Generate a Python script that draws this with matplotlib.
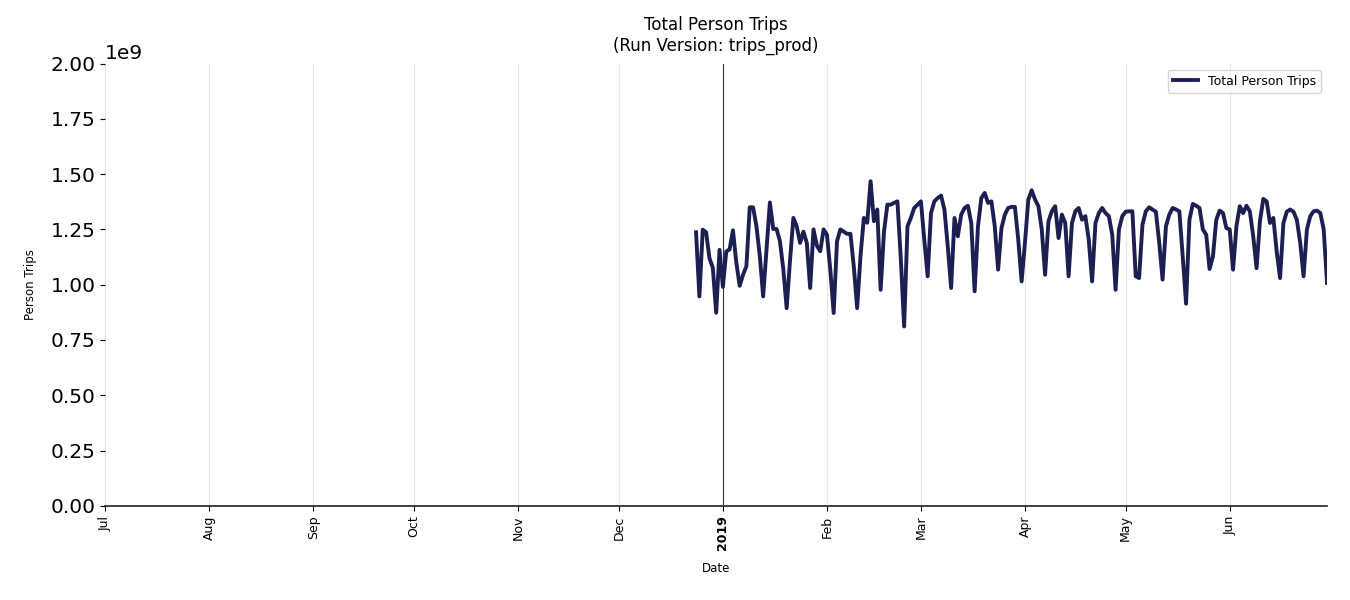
import matplotlib
matplotlib.use("Agg")
import matplotlib.pyplot as plt
import numpy as np
import pandas as pd

# daily totals, 2018-12-24 .. 2019-06-30 (units of 1e9 trips)
start_date = "2018-12-24"
trips_dec = [1.237, 0.947, 1.249, 1.237, 1.120, 1.077, 0.873, 1.158]
trips_jan = [0.990, 1.150, 1.160, 1.246, 1.100, 0.995, 1.045, 1.083, 1.350, 1.350,
             1.264, 1.130, 0.947, 1.160, 1.372, 1.252, 1.252, 1.196, 1.070, 0.894,
             1.110, 1.302, 1.264, 1.189, 1.240, 1.189, 0.985, 1.250, 1.176, 1.151,
             1.250]
trips_feb = [1.226, 1.068, 0.872, 1.196, 1.250, 1.240, 1.230, 1.230, 1.083, 0.894,
             1.130, 1.302, 1.280, 1.468, 1.287, 1.340, 0.977, 1.240, 1.362, 1.362,
             1.370, 1.377, 1.120, 0.811, 1.264, 1.302, 1.347, 1.362]
trips_mar = [1.377, 1.204, 1.038, 1.324, 1.377, 1.392, 1.403, 1.340, 1.173, 0.985,
             1.302, 1.219, 1.317, 1.347, 1.357, 1.279, 0.970, 1.264, 1.392, 1.415,
             1.370, 1.377, 1.264, 1.068, 1.256, 1.317, 1.347, 1.352, 1.352, 1.204,
             1.015]
trips_apr = [1.190, 1.385, 1.427, 1.385, 1.355, 1.250, 1.045, 1.287, 1.332, 1.355,
             1.211, 1.317, 1.279, 1.038, 1.279, 1.332, 1.347, 1.294, 1.310, 1.204,
             1.015, 1.279, 1.324, 1.347, 1.324, 1.310, 1.226, 0.977, 1.250, 1.310]
trips_may = [1.330, 1.332, 1.332, 1.038, 1.030, 1.271, 1.332, 1.350, 1.340, 1.330,
             1.190, 1.023, 1.264, 1.317, 1.347, 1.340, 1.332, 1.128, 0.914, 1.294,
             1.365, 1.357, 1.347, 1.250, 1.226, 1.071, 1.128, 1.294, 1.335, 1.324,
             1.256]
trips_jun = [1.250, 1.068, 1.264, 1.355, 1.324, 1.357, 1.332, 1.220, 1.075, 1.287,
             1.388, 1.377, 1.279, 1.302, 1.150, 1.030, 1.279, 1.330, 1.340, 1.330,
             1.294, 1.190, 1.038, 1.250, 1.310, 1.332, 1.335, 1.324, 1.250, 1.008]

month_ticks = ["2018-07-01", "2018-08-01", "2018-09-01", "2018-10-01", "2018-11-01",
               "2018-12-01", "2019-01-01", "2019-02-01", "2019-03-01", "2019-04-01",
               "2019-05-01", "2019-06-01"]
month_labels = ["Jul", "Aug", "Sep", "Oct", "Nov", "Dec", "2019", "Feb", "Mar", "Apr",
                "May", "Jun"]

values = np.array(trips_dec + trips_jan + trips_feb + trips_mar + trips_apr
                  + trips_may + trips_jun) * 1e9
dates = pd.date_range(start_date, periods=len(values), freq="D")

fig = plt.figure(figsize=(13.5, 6), dpi=100)
ax = fig.add_axes([0.078, 0.157, 0.905, 0.737])

# month grid + year marker
tick_dates = pd.to_datetime(month_ticks)
for d in tick_dates:
    if d.month == 1:
        ax.axvline(d, color="#333333", linewidth=0.8, zorder=1)
    else:
        ax.axvline(d, color="#e6e6e6", linewidth=0.8, zorder=0)

ax.plot(dates, values, color="#1c1f52", linewidth=2.8, label="Total Person Trips", zorder=3)

ax.set_xlim(pd.Timestamp("2018-07-01"), pd.Timestamp("2019-06-30"))
ax.set_ylim(0, 2.0e9)
ax.set_yticks(np.arange(0, 2.01e9, 0.25e9))
ax.tick_params(axis="y", labelsize=14.5)

ax.set_xticks(tick_dates)
ax.set_xticklabels(month_labels, rotation=90, fontsize=9)
for lbl in ax.get_xticklabels():
    if lbl.get_text() == "2019":
        lbl.set_fontweight("bold")
ax.yaxis.get_offset_text().set_fontsize(14.5)

for side in ["top", "right", "left"]:
    ax.spines[side].set_visible(False)
ax.spines["bottom"].set_color("#222222")
ax.spines["bottom"].set_linewidth(1.2)

ax.set_xlabel("Date", fontsize=8.5, labelpad=8)
ax.set_ylabel("Person Trips", fontsize=8.5, labelpad=10)
ax.set_title("Total Person Trips\n(Run Version: trips_prod)", fontsize=12, pad=9)
ax.legend(loc="upper right", fontsize=9)

fig.savefig("out.png", dpi=100)
